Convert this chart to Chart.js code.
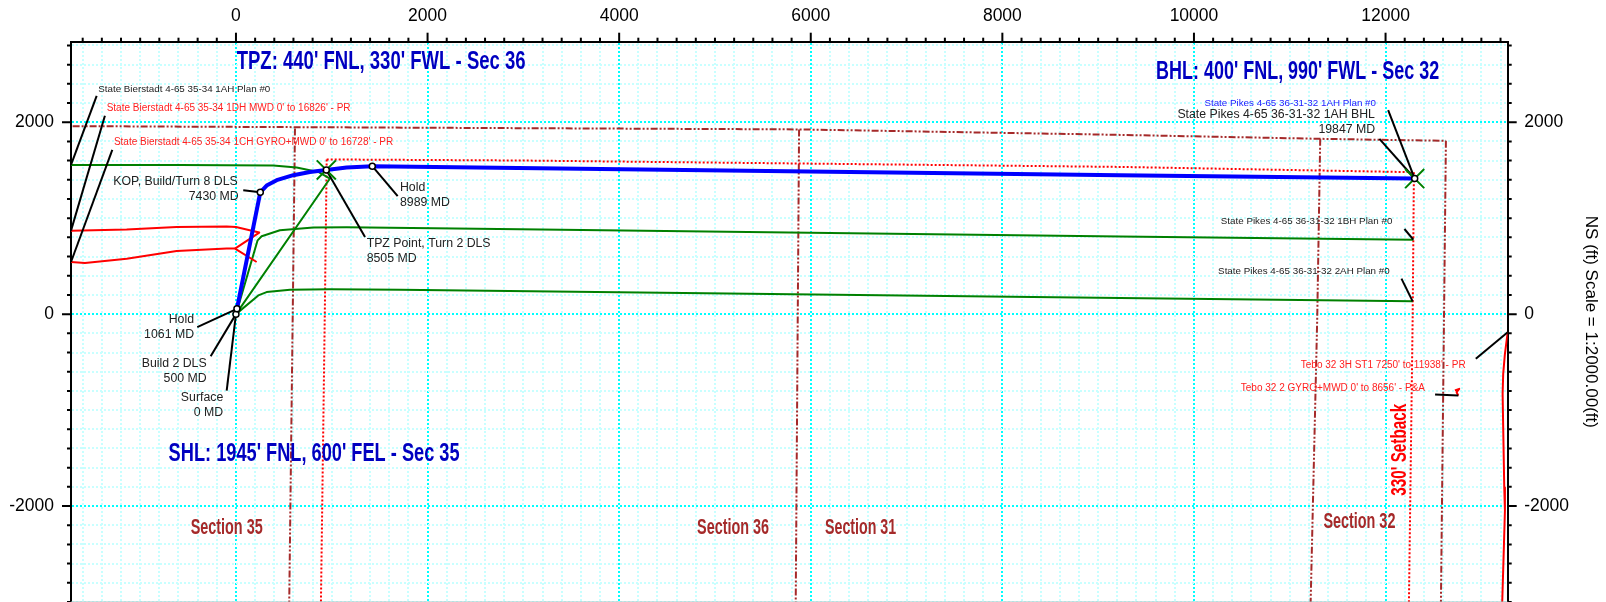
<!DOCTYPE html>
<html>
<head>
<meta charset="utf-8">
<title>Plan view</title>
<script src="https://cdn.jsdelivr.net/npm/chart.js@4/dist/chart.umd.min.js"></script>
<style>
  html, body { margin: 0; padding: 0; background: #fff; overflow: hidden; }
  canvas { display: block; }
</style>
</head>
<body>
<canvas id="planChart" width="1606" height="602"></canvas>
<script>
// ------------------------------------------------------------
// Data (EW / NS in feet)
// ------------------------------------------------------------
const xRange = [-1722, 13275];
const yRange = [-3000, 2839];
const minorStep = 200;

// subject well
const mainEW = [0, 10, 254, 320, 425, 598, 772, 943, 1155, 1423, 9228, 12304];
const mainNS = [0, 55, 1270, 1340, 1396, 1448, 1482, 1503, 1528, 1542, 1447, 1413];
const stationEW = [0, 10, 254, 943, 1423, 12304];
const stationNS = [0, 55, 1270, 1503, 1542, 1413];
const crossEW = [943, 12304];
const crossNS = [1503, 1413];

// green plans
const bierstadtPlanEW = [0, 981, 859, 633, 389, -585, -1722];
const bierstadtPlanNS = [0, 1413, 1482, 1528, 1549, 1555, 1555];
const pikes1bhEW = [0, 226, 268, 459, 807, 1155, 2965, 9228, 12290];
const pikes1bhNS = [0, 769, 811, 874, 902, 905, 884, 808, 776];
const pikes2ahEW = [0, 233, 320, 564, 981, 1712, 9228, 12283];
const pikes2ahNS = [0, 195, 230, 255, 258, 255, 167, 133];

// red offsets
const bierstadt1dhEW = [-1722, -1141, -619, -97, 0, 243, -10];
const bierstadt1dhNS = [870, 881, 908, 912, 908, 850, 683];
const bierstadt1chEW = [-1722, -1576, -1141, -619, -97, -10, 216];
const bierstadt1chNS = [543, 532, 578, 658, 683, 683, 543];
const tebo3hEW = [13275, 13246, 13228, 13222, 13228, 13239, 13246, 13236, 13218];
const tebo3hNS = [-188, -413, -622, -831, -1180, -1806, -2049, -2397, -3000];
const tebo2EW = [12724, 12769, 12742, 12759];
const tebo2NS = [-796, -779, -814, -849];

// section lines
const sectionTopEW = [-1705, 2965, 5878, 9228, 11318, 12630];
const sectionTopNS = [1959, 1938, 1925, 1868, 1827, 1806];
const section3536EW = [616, 556];
const section3536NS = [1935, -3000];
const section3631EW = [5878, 5843];
const section3631NS = [1925, -3000];
const section3132EW = [11318, 11287, 11218];
const section3132NS = [1827, -31, -3000];
const sectionEastEW = [12630, 12578];
const sectionEastNS = [1806, -3000];

// 330' setback
const setbackTopEW = [947, 2965, 9228, 12296];
const setbackTopNS = [1612, 1601, 1534, 1479];
const setbackWestEW = [947, 929, 887];
const setbackWestNS = [1612, 143, -3000];
const setbackEastEW = [12296, 12283, 12244];
const setbackEastNS = [1479, -31, -3000];

// label leaders: [fromEW, fromNS, toEW, toNS]
const leaders = [
  [-1454, 2274, -1722, 1555],
  [-1368, 2067, -1722, 870],
  [-1291, 1712, -1722, 543],
  [76, 1291, 254, 1270],
  [1347, 804, 943, 1503],
  [1688, 1229, 1423, 1542],
  [-404, -136, 10, 55],
  [-264, -438, 0, 0],
  [-97, -797, 0, 0],
  [12027, 2127, 12304, 1413],
  [11936, 1827, 12304, 1413],
  [12197, 887, 12290, 776],
  [12166, 370, 12283, 133],
  [12942, -466, 13275, -188],
  [12517, -837, 12760, -849]
];

// text: [text, EW, NS, align]
const darkSmall = [
  ["State Bierstadt 4-65 35-34 1AH Plan #0", -1438, 2343, "left"],
  ["State Pikes 4-65 36-31-32 1BH Plan #0", 10280, 965, "left"],
  ["State Pikes 4-65 36-31-32 2AH Plan #0", 10252, 443, "left"]
];
const redSmall = [
  ["State Bierstadt 4-65 35-34 1DH MWD 0' to 16826' - PR", -1350, 2144, "left"],
  ["State Bierstadt 4-65 35-34 1CH GYRO+MWD 0' to 16728' - PR", -1274, 1789, "left"],
  ["Tebo 32 3H ST1 7250' to 11938' - PR", 11115, -528, "left"],
  ["Tebo 32 2 GYRO+MWD 0' to 8656' - P&A", 10489, -768, "left"]
];
const blueSmall = [
  ["State Pikes 4-65 36-31-32 1AH Plan #0", 10109, 2197, "left"]
];
const callouts = [
  ["KOP, Build/Turn 8 DLS", 18, 1378, "right"],
  ["7430 MD", 28, 1221, "right"],
  ["TPZ Point, Turn 2 DLS", 1364, 735, "left"],
  ["8505 MD", 1364, 574, "left"],
  ["Hold", 1712, 1315, "left"],
  ["8989 MD", 1712, 1159, "left"],
  ["Hold", -438, -55, "right"],
  ["1061 MD", -438, -209, "right"],
  ["Build 2 DLS", -306, -512, "right"],
  ["500 MD", -306, -668, "right"],
  ["Surface", -133, -867, "right"],
  ["0 MD", -133, -1022, "right"],
  ["State Pikes 4-65 36-31-32 1AH BHL", 9827, 2078, "left"],
  ["19847 MD", 11891, 1921, "right"]
];
// [text, left EW, NS, squeezed width]
const headings = [
  ["TPZ: 440' FNL, 330' FWL - Sec 36", 7, 2631, 289],
  ["BHL: 400' FNL, 990' FWL - Sec 32", 9605, 2520, 283],
  ["SHL: 1945' FNL, 600' FEL - Sec 35", -703, -1457, 291]
];
const sectionNames = [
  ["Section 35", -473, -2224, 72],
  ["Section 36", 4813, -2227, 72],
  ["Section 31", 6149, -2227, 71],
  ["Section 32", 11351, -2161, 72]
];
const setbackLabel = ["330' Setback", 12145, -1413, 92];
const yAxisTitle = "NS (ft) Scale = 1:2000.00(ft)";

// ------------------------------------------------------------
// Helpers
// ------------------------------------------------------------
const FONT = '"Liberation Sans", Arial, sans-serif';
const BROWN = "#a52a2a";
const DASH_DOT_DOT = [7, 2, 2, 2, 2, 2];
const isMajor = v => Math.abs(v) % 2000 === 0;

function pts(xs, ys) {
  return xs.map((x, i) => ({ x, y: ys[i] }));
}

function line(xs, ys, color, width, dash) {
  return {
    data: pts(xs, ys),
    borderColor: color,
    backgroundColor: color,
    borderWidth: width,
    borderDash: dash || [],
    showLine: true,
    pointRadius: 0,
    tension: 0,
    borderJoinStyle: "round"
  };
}

// Chart.js stretches the step when min/max nearly fit it, so set the ticks here
function stepTicks(scale) {
  const ticks = [];
  for (let v = Math.ceil(scale.min / minorStep) * minorStep; v <= scale.max; v += minorStep) {
    ticks.push({ value: v });
  }
  scale.ticks = ticks;
}

function fitBox(prop, size) {
  return s => {
    s[prop] = size;
    s.paddingTop = s.paddingBottom = s.paddingLeft = s.paddingRight = 0;
  };
}

// ------------------------------------------------------------
// Plugin: tick marks, frame bottom, text
// ------------------------------------------------------------
const planDecor = {
  id: "planDecor",
  afterDraw(chart) {
    const { ctx, chartArea: a, scales } = chart;
    ctx.save();

    // bottom edge of the frame
    ctx.strokeStyle = "#9cc4c4";
    ctx.lineWidth = 1;
    ctx.beginPath();
    ctx.moveTo(a.left, a.bottom);
    ctx.lineTo(a.right, a.bottom);
    ctx.stroke();

    // outside tick marks
    ctx.strokeStyle = "#000";
    ctx.lineWidth = 2;
    scales.x.ticks.forEach(t => {
      const px = scales.x.getPixelForValue(t.value);
      ctx.beginPath();
      ctx.moveTo(px, a.top);
      ctx.lineTo(px, a.top - (isMajor(t.value) ? 9 : 4));
      ctx.stroke();
    });
    scales.y.ticks.forEach(t => {
      const py = scales.y.getPixelForValue(t.value);
      const len = isMajor(t.value) ? 9 : 4;
      ctx.beginPath();
      ctx.moveTo(a.left, py);
      ctx.lineTo(a.left - len, py);
      ctx.moveTo(a.right, py);
      ctx.lineTo(a.right + len, py);
      ctx.stroke();
    });

    ctx.textBaseline = "middle";
    const put = (rows, font, color) => {
      ctx.font = font;
      ctx.fillStyle = color;
      rows.forEach(r => {
        ctx.textAlign = r[3];
        ctx.fillText(r[0], scales.x.getPixelForValue(r[1]), scales.y.getPixelForValue(r[2]));
      });
    };
    put(darkSmall, "9.8px " + FONT, "#222");
    put(redSmall, "10px " + FONT, "#ff2020");
    put(blueSmall, "9.8px " + FONT, "#2020ff");
    put(callouts, "12.3px " + FONT, "#222");

    // the big labels are squeezed to a narrow bold look
    const squeezed = (rows, font, color) => {
      ctx.font = font;
      ctx.fillStyle = color;
      ctx.textAlign = "left";
      rows.forEach(r => {
        ctx.fillText(r[0], scales.x.getPixelForValue(r[1]), scales.y.getPixelForValue(r[2]), r[3]);
      });
    };
    squeezed(headings, "bold 26px " + FONT, "#0000c0");
    squeezed(sectionNames, "bold 22px " + FONT, BROWN);

    ctx.translate(scales.x.getPixelForValue(setbackLabel[1]), scales.y.getPixelForValue(setbackLabel[2]));
    ctx.rotate(-Math.PI / 2);
    ctx.font = "bold 22px " + FONT;
    ctx.fillStyle = "#ff0000";
    ctx.textAlign = "center";
    ctx.fillText(setbackLabel[0], 0, 0, setbackLabel[3]);

    ctx.restore();
  }
};

// ------------------------------------------------------------
// Chart
// ------------------------------------------------------------
const leaderSets = leaders.map(l => line([l[0], l[2]], [l[1], l[3]], "#000", 2));

const datasets = [
  line(sectionTopEW, sectionTopNS, BROWN, 2, DASH_DOT_DOT),
  line(section3536EW, section3536NS, BROWN, 2, DASH_DOT_DOT),
  line(section3631EW, section3631NS, BROWN, 2, DASH_DOT_DOT),
  line(section3132EW, section3132NS, BROWN, 2, DASH_DOT_DOT),
  line(sectionEastEW, sectionEastNS, BROWN, 2, DASH_DOT_DOT),
  line(setbackTopEW, setbackTopNS, "#ff0000", 2, [2, 2]),
  line(setbackWestEW, setbackWestNS, "#ff0000", 2, [2, 2]),
  line(setbackEastEW, setbackEastNS, "#ff0000", 2, [2, 2]),
  line(bierstadtPlanEW, bierstadtPlanNS, "#008000", 2),
  line(pikes1bhEW, pikes1bhNS, "#008000", 2),
  line(pikes2ahEW, pikes2ahNS, "#008000", 2),
  line(bierstadt1dhEW, bierstadt1dhNS, "#ff0000", 2),
  line(bierstadt1chEW, bierstadt1chNS, "#ff0000", 2),
  line(tebo3hEW, tebo3hNS, "#ff0000", 2),
  line(tebo2EW, tebo2NS, "#ff0000", 2),
  ...leaderSets,
  line(mainEW, mainNS, "#0000ff", 4),
  {
    data: pts(crossEW, crossNS),
    showLine: false,
    pointStyle: "crossRot",
    pointRadius: 13.5,
    pointBorderColor: "#008000",
    pointBorderWidth: 2
  },
  {
    data: pts(stationEW, stationNS),
    showLine: false,
    pointStyle: "circle",
    pointRadius: 3,
    pointBackgroundColor: "#fff",
    pointBorderColor: "#000",
    pointBorderWidth: 1.5
  }
].reverse(); // Chart.js paints the first dataset last

const gridColor = ctx => (isMajor(ctx.tick.value) ? "#00ffff" : "#c8ffff");
const tickFont = { family: FONT, size: 17.5 };
const tickLabel = v => (isMajor(v) ? String(v) : "");

new Chart(document.getElementById("planChart"), {
  type: "scatter",
  data: { datasets },
  plugins: [planDecor],
  options: {
    responsive: false,
    animation: false,
    events: [],
    layout: { padding: 0, autoPadding: false },
    plugins: { legend: { display: false }, tooltip: { enabled: false } },
    scales: {
      x: {
        type: "linear",
        position: "top",
        min: xRange[0],
        max: xRange[1],
        afterBuildTicks: stepTicks,
        afterFit: fitBox("height", 41.7),
        grid: { color: gridColor, lineWidth: 2, drawTicks: false },
        border: { color: "#000", width: 2, dash: [2, 2] },
        ticks: {
          autoSkip: false,
          maxRotation: 0,
          padding: 15,
          color: "#000",
          font: tickFont,
          callback: tickLabel
        }
      },
      y: {
        type: "linear",
        position: "left",
        min: yRange[0],
        max: yRange[1],
        afterBuildTicks: stepTicks,
        afterFit: fitBox("width", 71),
        grid: { color: gridColor, lineWidth: 2, drawTicks: false },
        border: { color: "#000", width: 2, dash: [2, 2] },
        ticks: {
          autoSkip: false,
          padding: 17,
          color: "#000",
          font: tickFont,
          callback: tickLabel
        }
      },
      y2: {
        type: "linear",
        position: "right",
        min: yRange[0],
        max: yRange[1],
        afterBuildTicks: stepTicks,
        afterFit: fitBox("width", 98.3),
        grid: { drawOnChartArea: false, drawTicks: false },
        border: { color: "#000", width: 2 },
        title: {
          display: true,
          text: yAxisTitle,
          color: "#000",
          font: { family: FONT, size: 17 },
          padding: { top: 5.4, bottom: 0 }
        },
        ticks: {
          autoSkip: false,
          padding: 16.5,
          color: "#000",
          font: tickFont,
          callback: tickLabel
        }
      }
    }
  }
});
</script>
</body>
</html>
